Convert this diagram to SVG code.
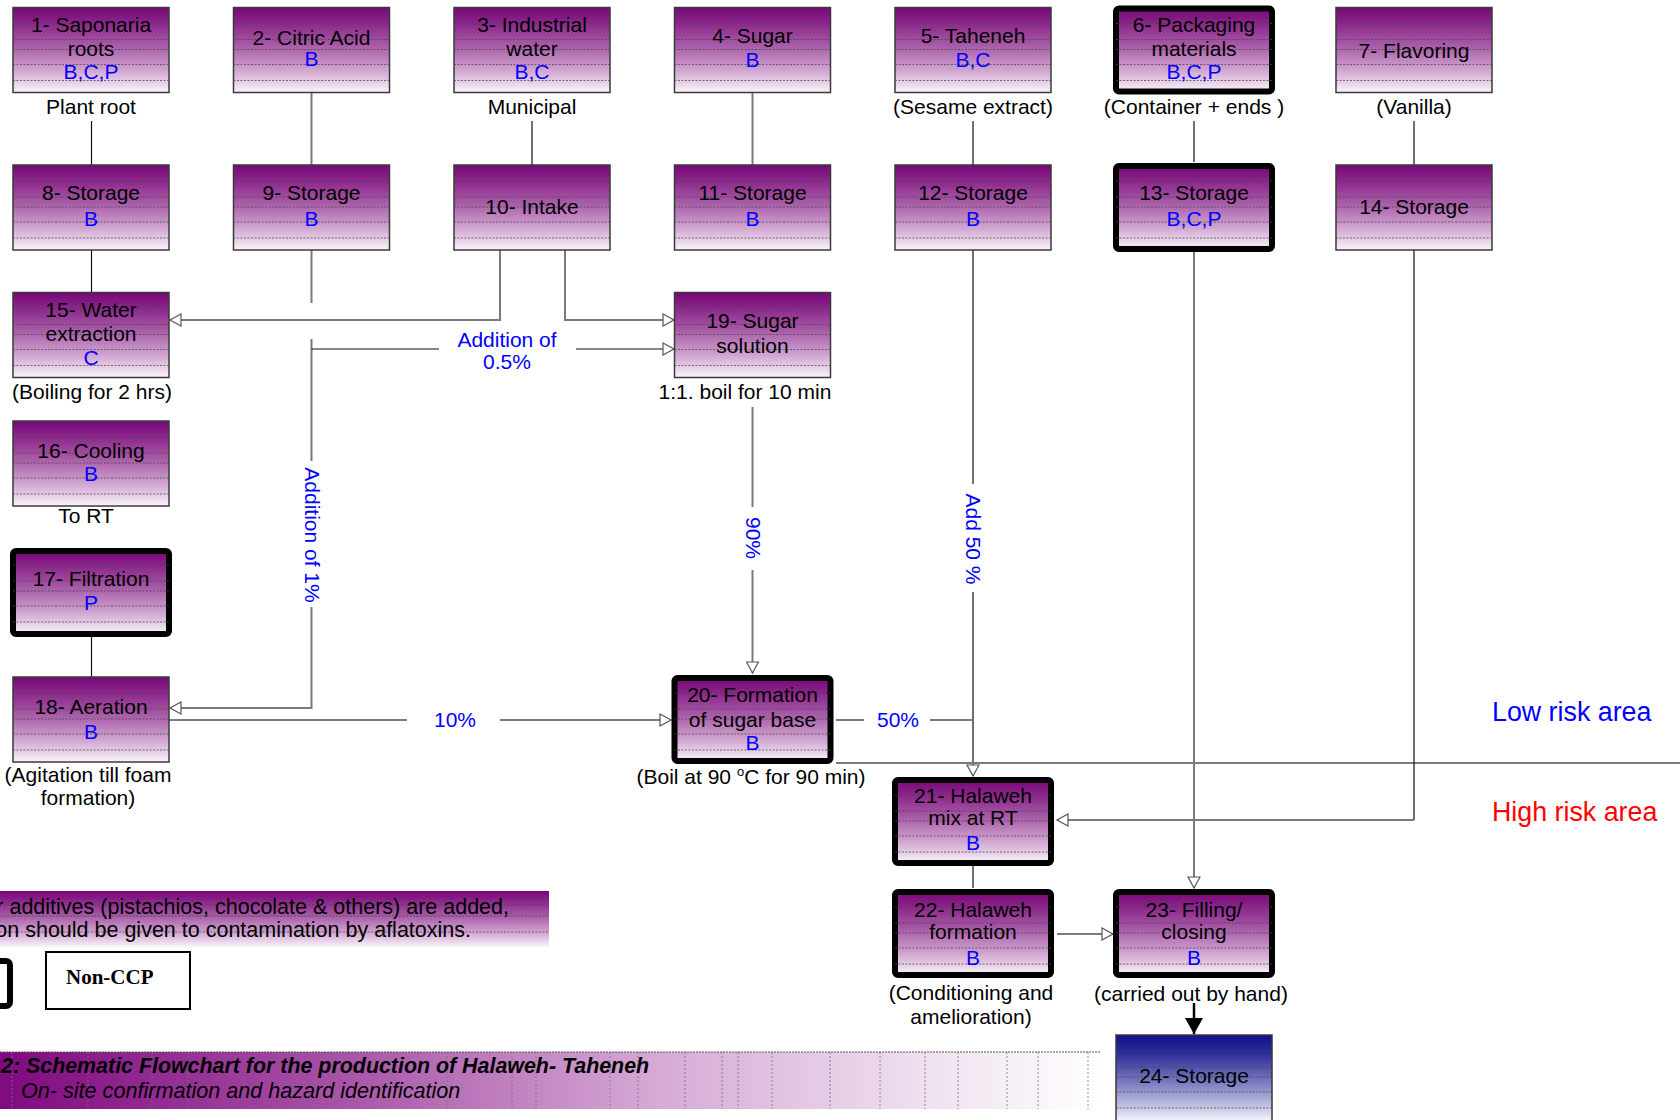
<svg xmlns="http://www.w3.org/2000/svg" xmlns:xlink="http://www.w3.org/1999/xlink" width="1680" height="1120" viewBox="0 0 1680 1120">
<style>
.t{font-family:"Liberation Sans",Arial,sans-serif;font-size:21px;fill:#000;text-anchor:middle}
.b{fill:#0000ff}
.box{fill:url(#pg);stroke:#3a3a3a;stroke-width:1.5}
.ccp{fill:url(#pg);stroke:#000;stroke-width:6}
.str{stroke:#4a4a4a;stroke-width:0.9;stroke-dasharray:2 1.5;opacity:0.85}
.cg{fill:none;stroke:#7a7a7a;stroke-width:2}
.ck{fill:none;stroke:#111;stroke-width:1.2}
.lab{font-family:"Liberation Sans",Arial,sans-serif;font-size:21px;fill:#0000ff;text-anchor:middle}
</style>
<defs>
<linearGradient id="pg" x1="0" y1="0" x2="0" y2="1">
<stop offset="0" stop-color="#780878"/>
<stop offset="0.12" stop-color="#841a84"/>
<stop offset="0.45" stop-color="#a85ca8"/>
<stop offset="0.75" stop-color="#d2a8d2"/>
<stop offset="1" stop-color="#faf4fa"/>
</linearGradient>
<linearGradient id="bg" x1="0" y1="0" x2="0" y2="1">
<stop offset="0" stop-color="#12128a"/>
<stop offset="0.2" stop-color="#2a2a98"/>
<stop offset="0.55" stop-color="#7a7ac0"/>
<stop offset="0.85" stop-color="#c8c8e6"/>
<stop offset="1" stop-color="#f4f4fb"/>
</linearGradient>
<linearGradient id="hg" x1="0" y1="0" x2="1" y2="0">
<stop offset="0" stop-color="#800a80"/>
<stop offset="0.3" stop-color="#a650a6"/>
<stop offset="0.6" stop-color="#d6aad6"/>
<stop offset="0.85" stop-color="#f0e2f0"/>
<stop offset="1" stop-color="#ffffff"/>
</linearGradient>
<g id="stripes">
<line class="str" x1="0" y1="16" x2="156" y2="16"/>
<line class="str" x1="0" y1="32" x2="156" y2="32"/>
<line class="str" x1="0" y1="42" x2="156" y2="42"/>
<line class="str" x1="0" y1="57" x2="156" y2="57"/>
<line class="str" x1="0" y1="73" x2="156" y2="73"/>
</g>
<marker id="oa" viewBox="-1 -1 14 14" refX="11" refY="6" markerWidth="14" markerHeight="14" markerUnits="userSpaceOnUse" orient="auto">
<path d="M0,0 L11,6 L0,12 z" fill="#fff" stroke="#555" stroke-width="1.2"/>
</marker>
<marker id="fa" viewBox="0 0 16 18" refX="16" refY="9" markerWidth="16" markerHeight="18" markerUnits="userSpaceOnUse" orient="auto">
<path d="M0,0 L16,9 L0,18 z" fill="#000"/>
</marker>
</defs>
<rect width="1680" height="1120" fill="#fff"/>

<g id="connectors">
<path class="ck" d="M91.5 121V165"/>
<path class="cg" d="M311.5 92.5V165"/>
<path class="ck" d="M532 121V165"/>
<path class="cg" d="M752.5 92.5V165"/>
<path class="ck" d="M973 121V165"/>
<path class="ck" d="M1194 121V162"/>
<path class="ck" d="M1414 121V165"/>
<path class="ck" d="M91.5 250V292.5"/>
<path class="cg" d="M311.5 250V303"/>
<path class="cg" d="M500 250V320H170" marker-end="url(#oa)"/>
<path class="cg" d="M565 250V320H674" marker-end="url(#oa)"/>
<path class="cg" d="M311.5 339V461"/>
<path class="cg" d="M311.5 607V708H170" marker-end="url(#oa)"/>
<path class="ck" d="M311.5 349H439"/>
<path class="ck" d="M576 349H674" marker-end="url(#oa)"/>
<path class="cg" d="M752.5 407V507"/>
<path class="cg" d="M752.5 570V673" marker-end="url(#oa)"/>
<path class="ck" d="M973 250V484"/>
<path class="ck" d="M973 592V776" marker-end="url(#oa)"/>
<path class="cg" d="M169 720H407"/>
<path class="cg" d="M500 720H671" marker-end="url(#oa)"/>
<path class="cg" d="M836 720H864"/>
<path class="cg" d="M930 720H973"/>
<path class="cg" d="M836 763H1680"/>
<path class="cg" d="M1194 252V888" marker-end="url(#oa)"/>
<path class="ck" d="M1414 250V820"/>
<path class="cg" d="M1414 820H1057" marker-end="url(#oa)"/>
<path class="ck" d="M973 866V888"/>
<path class="cg" d="M1057 934H1113" marker-end="url(#oa)"/>
<path fill="none" stroke="#000" stroke-width="2.5" d="M1194 1003V1034" marker-end="url(#fa)"/>
<path class="ck" d="M91.5 637V677"/>
<text class="lab" x="507" y="347">Addition of</text>
<text class="lab" x="507" y="369">0.5%</text>
<text class="lab" x="455" y="727">10%</text>
<text class="lab" x="898" y="727">50%</text>
<text class="lab" transform="translate(311.5 535) rotate(90)" y="7">Addition of 1%</text>
<text class="lab" transform="translate(752.5 538) rotate(90)" y="7">90%</text>
<text class="lab" transform="translate(973 539) rotate(90)" y="7">Add 50 %</text>
</g>

<g id="n1"><rect class="box" x="13" y="7.5" width="156" height="85"/><use xlink:href="#stripes" x="13" y="7.5"/>
<text class="t" x="91" y="32">1- Saponaria</text><text class="t" x="91" y="56">roots</text><text class="t b" x="91" y="79">B,C,P</text>
<text class="t" x="91" y="114">Plant root</text></g>
<g id="n2"><rect class="box" x="233.5" y="7.5" width="156" height="85"/><use xlink:href="#stripes" x="233.5" y="7.5"/>
<text class="t" x="311.5" y="45">2- Citric Acid</text><text class="t b" x="311.5" y="66">B</text></g>
<g id="n3"><rect class="box" x="454" y="7.5" width="156" height="85"/><use xlink:href="#stripes" x="454" y="7.5"/>
<text class="t" x="532" y="32">3- Industrial</text><text class="t" x="532" y="56">water</text><text class="t b" x="532" y="79">B,C</text>
<text class="t" x="532" y="114">Municipal</text></g>
<g id="n4"><rect class="box" x="674.5" y="7.5" width="156" height="85"/><use xlink:href="#stripes" x="674.5" y="7.5"/>
<text class="t" x="752.5" y="43">4- Sugar</text><text class="t b" x="752.5" y="67">B</text></g>
<g id="n5"><rect class="box" x="895" y="7.5" width="156" height="85"/><use xlink:href="#stripes" x="895" y="7.5"/>
<text class="t" x="973" y="43">5- Taheneh</text><text class="t b" x="973" y="67">B,C</text>
<text class="t" x="973" y="114">(Sesame extract)</text></g>
<g id="n6"><rect class="ccp" x="1116" y="8.5" width="156" height="83" rx="3"/><use xlink:href="#stripes" x="1116" y="7.5"/>
<text class="t" x="1194" y="32">6- Packaging</text><text class="t" x="1194" y="56">materials</text><text class="t b" x="1194" y="79">B,C,P</text>
<text class="t" x="1194" y="114">(Container + ends )</text></g>
<g id="n7"><rect class="box" x="1336" y="7.5" width="156" height="85"/><use xlink:href="#stripes" x="1336" y="7.5"/>
<text class="t" x="1414" y="58">7- Flavoring</text>
<text class="t" x="1414" y="114">(Vanilla)</text></g>

<g id="n8"><rect class="box" x="13" y="165" width="156" height="85"/><use xlink:href="#stripes" x="13" y="165"/>
<text class="t" x="91" y="200">8- Storage</text><text class="t b" x="91" y="226">B</text></g>
<g id="n9"><rect class="box" x="233.5" y="165" width="156" height="85"/><use xlink:href="#stripes" x="233.5" y="165"/>
<text class="t" x="311.5" y="200">9- Storage</text><text class="t b" x="311.5" y="226">B</text></g>
<g id="n10"><rect class="box" x="454" y="165" width="156" height="85"/><use xlink:href="#stripes" x="454" y="165"/>
<text class="t" x="532" y="214">10- Intake</text></g>
<g id="n11"><rect class="box" x="674.5" y="165" width="156" height="85"/><use xlink:href="#stripes" x="674.5" y="165"/>
<text class="t" x="752.5" y="200">11- Storage</text><text class="t b" x="752.5" y="226">B</text></g>
<g id="n12"><rect class="box" x="895" y="165" width="156" height="85"/><use xlink:href="#stripes" x="895" y="165"/>
<text class="t" x="973" y="200">12- Storage</text><text class="t b" x="973" y="226">B</text></g>
<g id="n13"><rect class="ccp" x="1116" y="166" width="156" height="83" rx="3"/><use xlink:href="#stripes" x="1116" y="165"/>
<text class="t" x="1194" y="200">13- Storage</text><text class="t b" x="1194" y="226">B,C,P</text></g>
<g id="n14"><rect class="box" x="1336" y="165" width="156" height="85"/><use xlink:href="#stripes" x="1336" y="165"/>
<text class="t" x="1414" y="214">14- Storage</text></g>

<g id="n15"><rect class="box" x="13" y="292.5" width="156" height="85"/><use xlink:href="#stripes" x="13" y="292.5"/>
<text class="t" x="91" y="317">15- Water</text><text class="t" x="91" y="341">extraction</text><text class="t b" x="91" y="365">C</text>
<text class="t" x="92" y="399">(Boiling for 2 hrs)</text></g>
<g id="n16"><rect class="box" x="13" y="421" width="156" height="85"/><use xlink:href="#stripes" x="13" y="421"/>
<text class="t" x="91" y="458">16- Cooling</text><text class="t b" x="91" y="481">B</text>
<text class="t" x="86" y="523">To RT</text></g>
<g id="n17"><rect class="ccp" x="13" y="551" width="156" height="83" rx="3"/><use xlink:href="#stripes" x="13" y="549"/>
<text class="t" x="91" y="586">17- Filtration</text><text class="t b" x="91" y="610">P</text></g>
<g id="n18"><rect class="box" x="13" y="677" width="156" height="85"/><use xlink:href="#stripes" x="13" y="677"/>
<text class="t" x="91" y="714">18- Aeration</text><text class="t b" x="91" y="739">B</text>
<text class="t" x="88" y="782">(Agitation till foam</text><text class="t" x="88" y="805">formation)</text></g>
<g id="n19"><rect class="box" x="674.5" y="292.5" width="156" height="85"/><use xlink:href="#stripes" x="674.5" y="292.5"/>
<text class="t" x="752.5" y="328">19- Sugar</text><text class="t" x="752.5" y="353">solution</text>
<text class="t" x="745" y="399">1:1. boil for 10 min</text></g>
<g id="n20"><rect class="ccp" x="674.5" y="678" width="156" height="83" rx="3"/><use xlink:href="#stripes" x="674.5" y="677"/>
<text class="t" x="752.5" y="702">20- Formation</text><text class="t" x="752.5" y="727">of sugar base</text><text class="t b" x="752.5" y="750">B</text>
<text class="t" x="751" y="784">(Boil at 90  <tspan font-size="13" dy="-8">o</tspan><tspan dy="8">C for 90 min)</tspan></text></g>
<g id="n21"><rect class="ccp" x="895" y="780" width="156" height="83" rx="3"/><use xlink:href="#stripes" x="895" y="779"/>
<text class="t" x="973" y="803">21- Halaweh</text><text class="t" x="973" y="825">mix at RT</text><text class="t b" x="973" y="850">B</text></g>
<g id="n22"><rect class="ccp" x="895" y="892" width="156" height="83" rx="3"/><use xlink:href="#stripes" x="895" y="891"/>
<text class="t" x="973" y="917">22- Halaweh</text><text class="t" x="973" y="939">formation</text><text class="t b" x="973" y="965">B</text>
<text class="t" x="971" y="1000">(Conditioning and</text><text class="t" x="971" y="1024">amelioration)</text></g>
<g id="n23"><rect class="ccp" x="1116" y="892" width="156" height="83" rx="3"/><use xlink:href="#stripes" x="1116" y="891"/>
<text class="t" x="1194" y="917">23- Filling/</text><text class="t" x="1194" y="939">closing</text><text class="t b" x="1194" y="965">B</text>
<text class="t" x="1191" y="1001">(carried out by hand)</text></g>
<g id="n24"><rect x="1116" y="1035" width="156" height="86" fill="url(#bg)" stroke="#3a3a3a" stroke-width="1.5"/><use xlink:href="#stripes" x="1116" y="1035"/>
<text class="t" x="1194" y="1083">24- Storage</text></g>

<g id="risk">
<text x="1492" y="721" font-family="Liberation Sans,Arial,sans-serif" font-size="26.8" fill="#0000ff">Low risk area</text>
<text x="1492" y="821" font-family="Liberation Sans,Arial,sans-serif" font-size="26.8" fill="#ff0000">High risk area</text>
</g>

<g id="note">
<rect x="0" y="891" width="549" height="56" fill="url(#pg)"/>
<line class="str" x1="0" y1="905" x2="549" y2="905"/>
<line class="str" x1="0" y1="916" x2="549" y2="916"/>
<line class="str" x1="0" y1="932" x2="549" y2="932"/>
<text class="t" style="text-anchor:end;font-size:21.5px" x="509" y="914">r additives (pistachios, chocolate &amp; others) are added,</text>
<text class="t" style="text-anchor:end;font-size:21.5px" x="471" y="937">on should be given to contamination by aflatoxins.</text>
</g>

<g id="legend">
<rect x="-150" y="961" width="160" height="45" rx="4" fill="none" stroke="#000" stroke-width="6"/>
<rect x="46" y="952" width="144" height="57" fill="#fff" stroke="#000" stroke-width="2"/>
<text x="66" y="984" font-family="Liberation Serif,'Times New Roman',serif" font-size="21" font-weight="bold">Non-CCP</text>
</g>

<g id="title">
<rect x="0" y="1052" width="1100" height="57" fill="url(#hg)"/>
<line x1="0" y1="1052" x2="1100" y2="1052" stroke="#555" stroke-width="1" stroke-dasharray="2 1"/>
<g stroke="#6a7a6a" stroke-width="0.8" stroke-dasharray="2 2">
<line x1="12" y1="1052" x2="12" y2="1109"/><line x1="88" y1="1052" x2="88" y2="1109"/>
<line x1="152" y1="1052" x2="152" y2="1109"/><line x1="188" y1="1052" x2="188" y2="1109"/>
<line x1="293" y1="1052" x2="293" y2="1109"/><line x1="335" y1="1052" x2="335" y2="1109"/>
<line x1="390" y1="1052" x2="390" y2="1109"/><line x1="447" y1="1052" x2="447" y2="1109"/>
<line x1="512" y1="1052" x2="512" y2="1109"/><line x1="536" y1="1052" x2="536" y2="1109"/>
<line x1="610" y1="1052" x2="610" y2="1109"/><line x1="638" y1="1052" x2="638" y2="1109"/>
<line x1="685" y1="1052" x2="685" y2="1109"/><line x1="722" y1="1052" x2="722" y2="1109"/>
<line x1="738" y1="1052" x2="738" y2="1109"/><line x1="772" y1="1052" x2="772" y2="1109"/>
<line x1="830" y1="1052" x2="830" y2="1109"/><line x1="880" y1="1052" x2="880" y2="1109"/>
<line x1="925" y1="1052" x2="925" y2="1109"/><line x1="958" y1="1052" x2="958" y2="1109"/>
<line x1="1007" y1="1052" x2="1007" y2="1109"/><line x1="1038" y1="1052" x2="1038" y2="1109"/>
<line x1="1088" y1="1052" x2="1088" y2="1109"/>
</g>
<text x="1" y="1073" font-family="Liberation Sans,Arial,sans-serif" font-size="21.4" font-weight="bold" font-style="italic">2: Schematic Flowchart for the production of Halaweh- Taheneh</text>
<text x="21" y="1098" font-family="Liberation Sans,Arial,sans-serif" font-size="21.6" font-style="italic">On- site confirmation and hazard identification</text>
</g>
</svg>
